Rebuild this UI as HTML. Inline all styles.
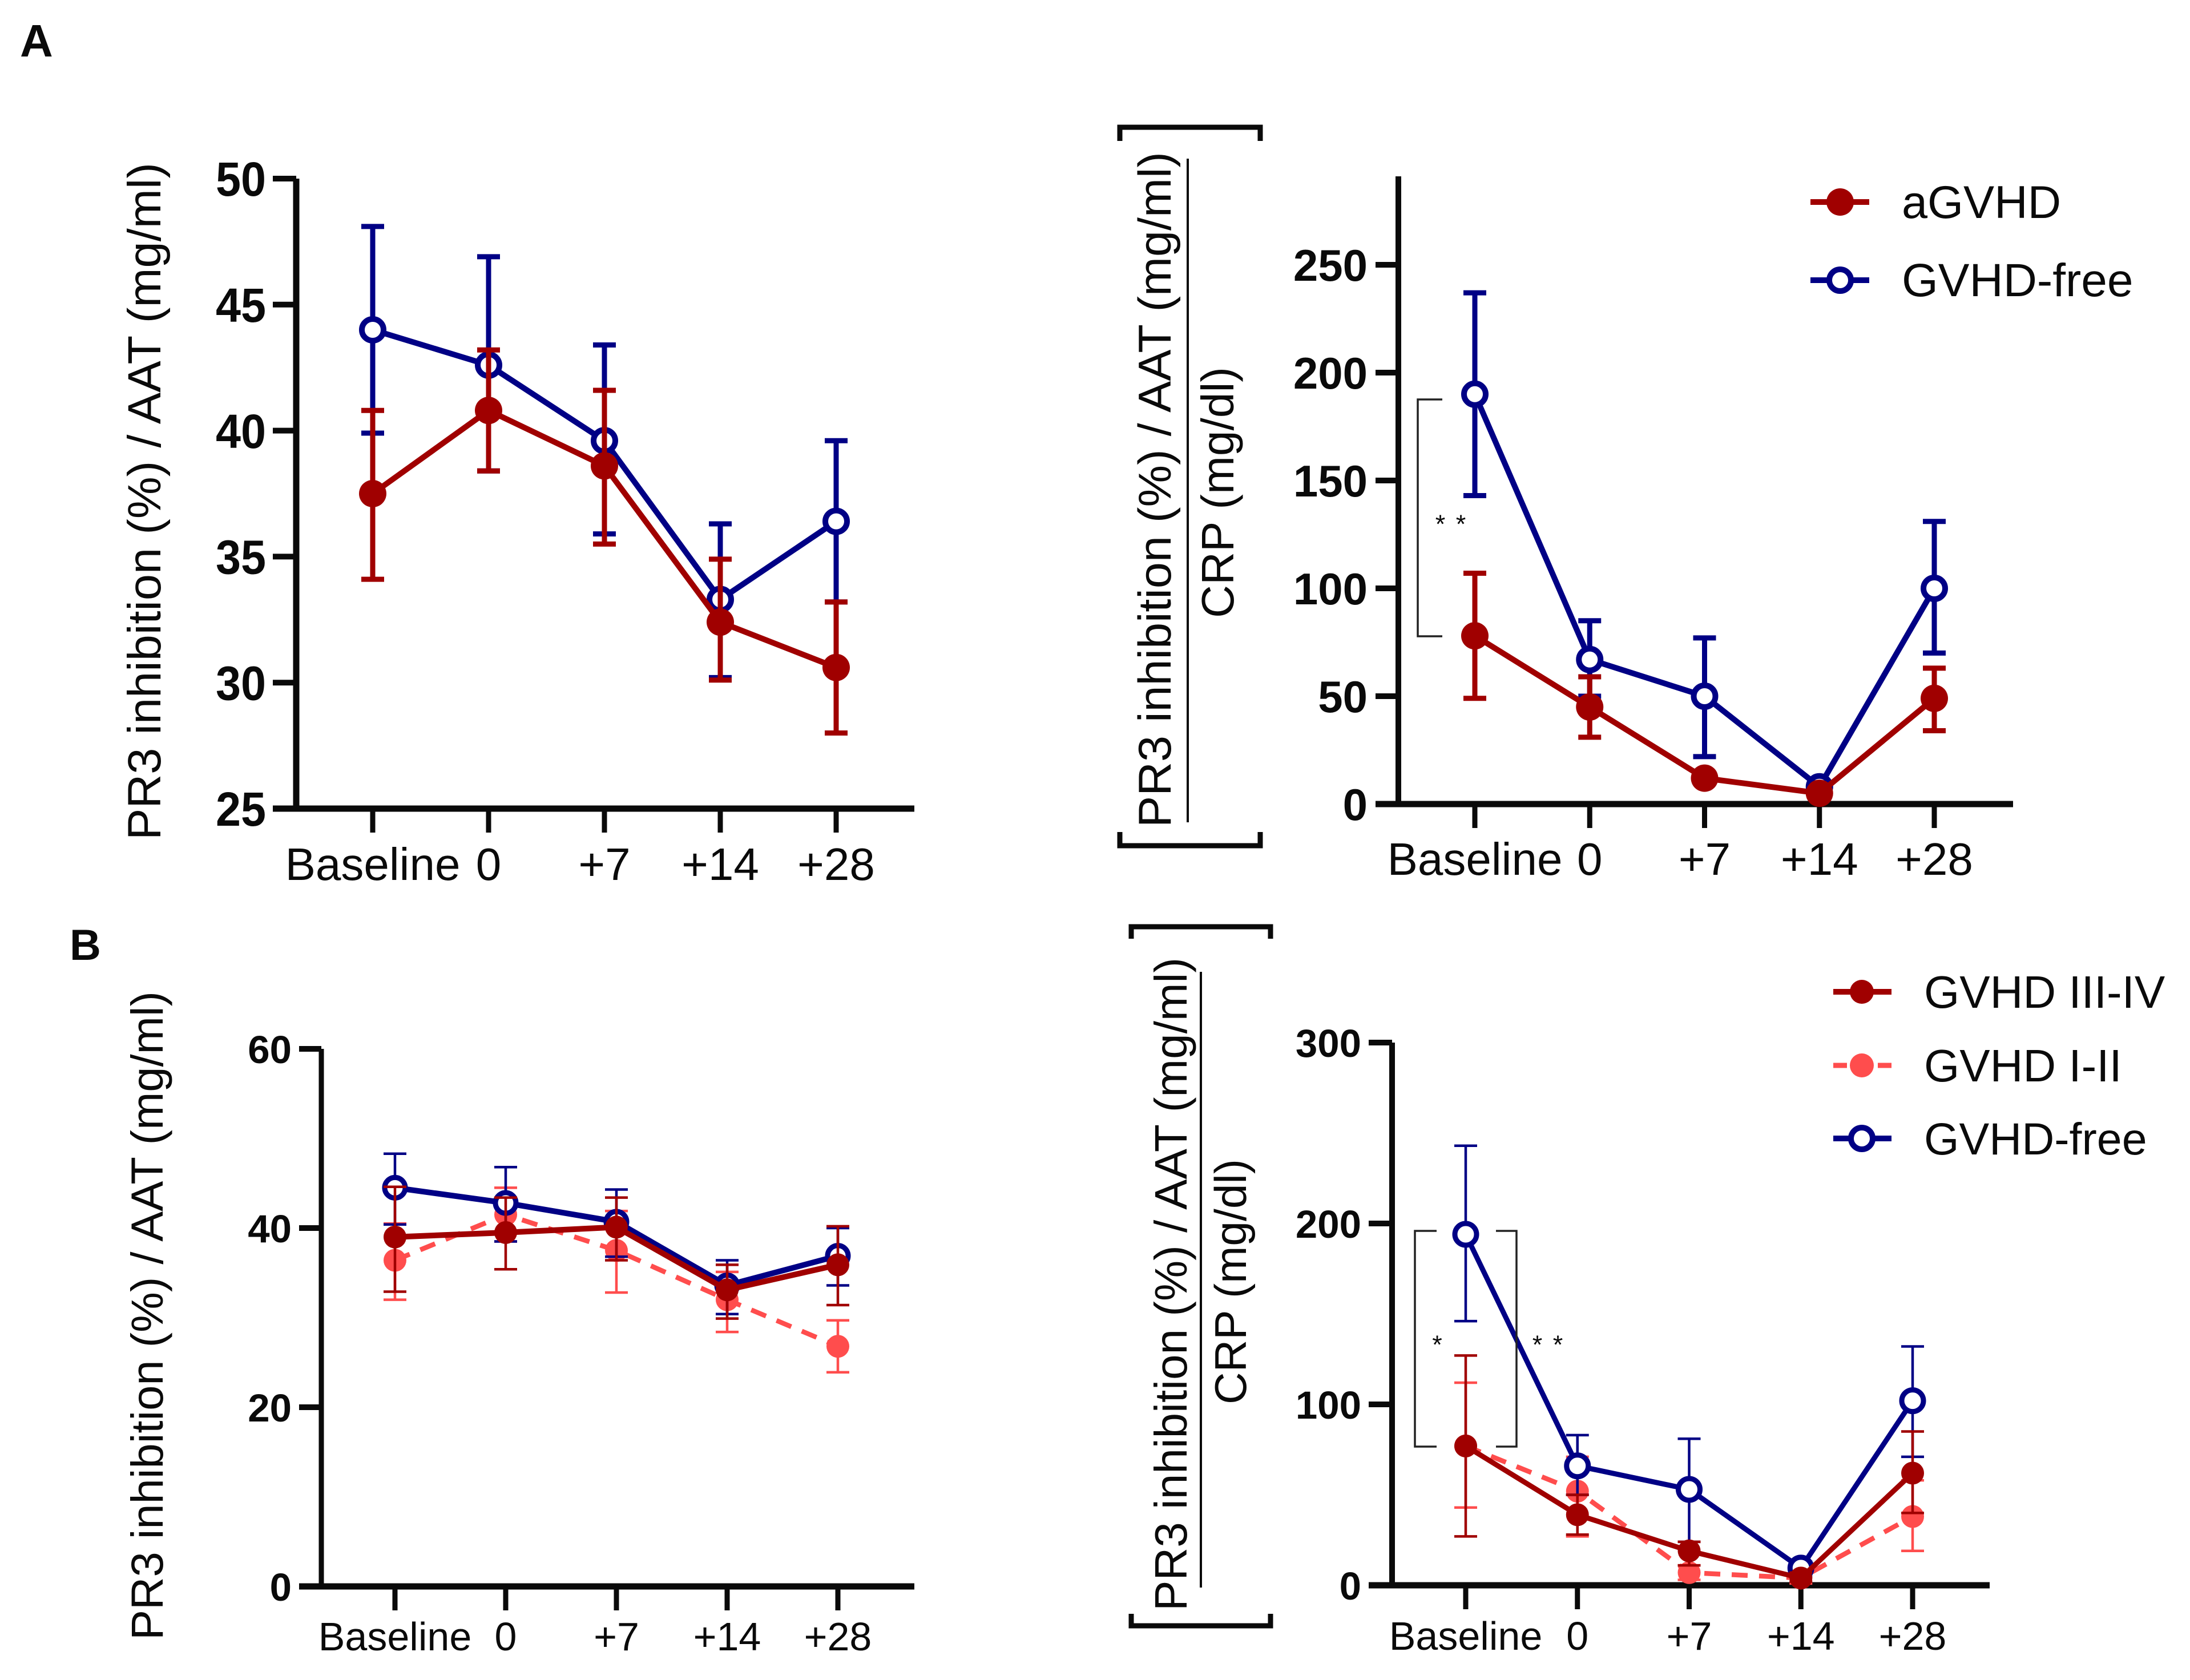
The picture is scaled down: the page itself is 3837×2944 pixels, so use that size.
<!DOCTYPE html>
<html lang="en">
<head>
<meta charset="utf-8">
<title>PR3 inhibition charts</title>
<style>
html,body{margin:0;padding:0;background:#fff;}
svg{display:block;}
text{font-family:"Liberation Sans",Arial,sans-serif;fill:#0a0a0a;}
</style>
</head>
<body>
<svg id="figure" xmlns="http://www.w3.org/2000/svg" width="3837" height="2944" viewBox="0 0 3837 2944">
  <rect width="3837" height="2944" fill="#fff"/>
  <text x="35" y="99" font-size="80" font-weight="bold">A</text>
  <text x="122" y="1682" font-size="76" font-weight="bold">B</text>

  <text transform="translate(281,1472) rotate(-90)" font-size="82" textLength="1187" lengthAdjust="spacingAndGlyphs">PR3 inhibition (%) / AAT (mg/ml)</text>
  <text transform="translate(285,2874) rotate(-90)" font-size="79" textLength="1137" lengthAdjust="spacingAndGlyphs">PR3 inhibition (%) / AAT (mg/ml)</text>

  <g>
    <polyline points="1962,247 1962,223 2208,223 2208,247" fill="none" stroke="#0a0a0a" stroke-width="9"/>
    <polyline points="1962,1458 1962,1482 2208,1482 2208,1458" fill="none" stroke="#0a0a0a" stroke-width="9"/>
    <line x1="2081" y1="278" x2="2081" y2="1441" stroke="#0a0a0a" stroke-width="4"/>
    <text transform="translate(2051,1450) rotate(-90)" font-size="81" textLength="1184" lengthAdjust="spacingAndGlyphs">PR3 inhibition (%) / AAT (mg/ml)</text>
    <text transform="translate(2161,1083) rotate(-90)" font-size="80" textLength="440" lengthAdjust="spacingAndGlyphs">CRP (mg/dl)</text>
  </g>

  <g>
    <polyline points="1982,1645 1982,1624 2226,1624 2226,1645" fill="none" stroke="#0a0a0a" stroke-width="9"/>
    <polyline points="1982,2828 1982,2849 2226,2849 2226,2828" fill="none" stroke="#0a0a0a" stroke-width="9"/>
    <line x1="2104" y1="1703" x2="2104" y2="2782" stroke="#0a0a0a" stroke-width="4"/>
    <text transform="translate(2079,2823) rotate(-90)" font-size="80" textLength="1145" lengthAdjust="spacingAndGlyphs">PR3 inhibition (%) / AAT (mg/ml)</text>
    <text transform="translate(2183,2461) rotate(-90)" font-size="78" textLength="430" lengthAdjust="spacingAndGlyphs">CRP (mg/dl)</text>
  </g>

  <g id="plots"></g>

  <g>
    <polyline points="2527,700 2484,700 2484,1115 2527,1115" fill="none" stroke="#222" stroke-width="3.5"/>
    <text x="2543" y="934" font-size="45" text-anchor="middle" letter-spacing="3">* *</text>
  </g>
  <g>
    <polyline points="2517,2157 2479,2157 2479,2535 2517,2535" fill="none" stroke="#222" stroke-width="3.5"/>
    <polyline points="2621,2157 2657,2157 2657,2535 2621,2535" fill="none" stroke="#222" stroke-width="3.5"/>
    <text x="2518" y="2372" font-size="45" text-anchor="middle">*</text>
    <text x="2713" y="2372" font-size="45" text-anchor="middle" letter-spacing="3">* *</text>
  </g>

  <g>
    <g>
      <line x1="3172" y1="354" x2="3275" y2="354" stroke="#a00000" stroke-width="10"/>
      <circle cx="3224" cy="354" r="24" fill="#a00000"/>
      <text x="3332" y="382" font-size="81">aGVHD</text>
    </g>
    <g>
      <line x1="3172" y1="491" x2="3275" y2="491" stroke="#000085" stroke-width="10"/>
      <circle cx="3224" cy="491" r="19" fill="#fff" stroke="#000085" stroke-width="10"/>
      <text x="3332" y="519" font-size="82">GVHD-free</text>
    </g>
  </g>
  <g>
    <g>
      <line x1="3212" y1="1738" x2="3314" y2="1738" stroke="#a00000" stroke-width="10"/>
      <circle cx="3262" cy="1738" r="21" fill="#a00000"/>
      <text x="3371" y="1766" font-size="80">GVHD III-IV</text>
    </g>
    <g>
      <line x1="3212" y1="1867" x2="3314" y2="1867" stroke="#ff4d4d" stroke-width="9" stroke-dasharray="24 54"/>
      <circle cx="3262" cy="1867" r="21" fill="#ff4d4d"/>
      <text x="3371" y="1895" font-size="80">GVHD I-II</text>
    </g>
    <g>
      <line x1="3212" y1="1995" x2="3314" y2="1995" stroke="#000085" stroke-width="10"/>
      <circle cx="3262" cy="1995" r="19" fill="#fff" stroke="#000085" stroke-width="10"/>
      <text x="3371" y="2023" font-size="79">GVHD-free</text>
    </g>
  </g>
</svg>

<script>
// ---------- shared categories ----------
const categories = ['Baseline', '0', '+7', '+14', '+28'];

// ---------- panel A, left ----------
const aLeftYTicks = [25, 30, 35, 40, 45, 50];
const aLeftFreeMean = [44, 42.6, 39.6, 33.3, 36.4];
const aLeftFreeUpper = [48.1, 46.9, 43.4, 36.3, 39.6];
const aLeftFreeLower = [39.9, 38.4, 35.9, 30.2, 33.2];
const aLeftGvhdMean = [37.5, 40.8, 38.6, 32.4, 30.6];
const aLeftGvhdUpper = [40.8, 43.2, 41.6, 34.9, 33.2];
const aLeftGvhdLower = [34.1, 38.4, 35.5, 30.1, 28];

// ---------- panel A, right ----------
const aRightYTicks = [0, 50, 100, 150, 200, 250];
const aRightFreeMean = [190, 67, 50, 8, 100];
const aRightFreeUpper = [237, 85, 77, 10, 131];
const aRightFreeLower = [143, 50, 22, 6, 70];
const aRightGvhdMean = [78, 45, 12, 5, 49];
const aRightGvhdUpper = [107, 59, 13, 6, 63];
const aRightGvhdLower = [49, 31, 11, 4, 34];

// ---------- panel B, left ----------
const bLeftYTicks = [0, 20, 40, 60];
const bLeftFreeMean = [44.5, 42.8, 40.7, 33.6, 36.9];
const bLeftFreeUpper = [48.3, 46.8, 44.3, 36.4, 40];
const bLeftFreeLower = [40.4, 38.5, 36.8, 30.4, 33.6];
const bLeftSevereMean = [39, 39.5, 40.1, 33.1, 35.9];
const bLeftSevereUpper = [44.6, 43.4, 43.4, 35.9, 40.2];
const bLeftSevereLower = [32.9, 35.4, 36.4, 29.9, 31.4];
const bLeftMildMean = [36.4, 41.5, 37.5, 32, 26.8];
const bLeftMildUpper = [40.5, 44.5, 41.9, 35.1, 29.7];
const bLeftMildLower = [32, 38.5, 32.8, 28.4, 23.9];

// ---------- panel B, right ----------
const bRightYTicks = [0, 100, 200, 300];
const bRightFreeMean = [194, 66, 53, 9.5, 102];
const bRightFreeUpper = [243, 83, 81, 13, 132];
const bRightFreeLower = [146, 50, 24, 5, 71];
const bRightSevereMean = [77, 39, 19, 4, 62];
const bRightSevereUpper = [127, 50, 24, 7, 85];
const bRightSevereLower = [27, 28, 11, 2, 40];
const bRightMildMean = [77, 52, 7, 4, 38];
const bRightMildUpper = [112, 71, 11, 7, 58];
const bRightMildLower = [43, 27, 3, 1, 19];

const NS = 'http://www.w3.org/2000/svg';
const plots = document.getElementById('plots');
const NAVY = '#000085';
const DARK = '#a00000';
const LIGHT = '#ff4d4d';
const INK = '#0a0a0a';

function make(tag, attrs, parent) {
  const node = document.createElementNS(NS, tag);
  Object.keys(attrs).forEach(function (k) { node.setAttribute(k, attrs[k]); });
  parent.appendChild(node);
  return node;
}

function xScale(panel, i) {
  return panel.x0 + i * panel.xStep;
}
function yScale(panel, v) {
  return panel.yBottom - (v - panel.yMin) * (panel.yBottom - panel.yTop) / (panel.yMax - panel.yMin);
}

function drawAxes(panel, root) {
  const g = make('g', {}, root);
  
  

  const yAxis = make('line', { x1: panel.axisX, x2: panel.axisX, y1: yScale(panel, panel.yMax), y2: panel.yBottom + 5, stroke: INK, 'stroke-width': panel.axisW }, g);
  
  

  const xAxis = make('line', { x1: panel.tickLeft, x2: panel.xEnd, y1: panel.yBottom, y2: panel.yBottom, stroke: INK, 'stroke-width': 11 }, g);
  
  

  panel.yTicks.forEach(function (t) {
    const y = yScale(panel, t);
    const tick = make('line', { x1: panel.tickLeft, x2: panel.axisX, y1: y, y2: y, stroke: INK, 'stroke-width': 10 }, g);
    
    

    const label = make('text', { x: panel.tickLabelRight, y: y + panel.yFont * 0.36, 'font-size': panel.yFont, 'font-weight': 'bold', 'text-anchor': 'end' }, g);
    label.textContent = String(t);
    if (panel.yDigitW) {
      label.setAttribute('textLength', String(t).length * panel.yDigitW);
      label.setAttribute('lengthAdjust', 'spacingAndGlyphs');
    }
    
    
  });

  categories.forEach(function (c, i) {
    const x = xScale(panel, i);
    const tick = make('line', { x1: x, x2: x, y1: panel.yBottom, y2: panel.yBottom + 42, stroke: INK, 'stroke-width': 9 }, g);
    
    

    const label = make('text', { x: x, y: panel.xLabelY, 'font-size': panel.xFont, 'text-anchor': 'middle' }, g);
    label.textContent = c;
    
    
  });
}

function drawSeries(panel, root, s) {
  const g = make('g', {}, root);
  
  

  s.upper.forEach(function (u, i) {
    const x = xScale(panel, i);
    const yU = yScale(panel, u);
    const yL = yScale(panel, s.lower[i]);
    const stem = make('line', { x1: x, x2: x, y1: yU, y2: yL, stroke: s.color, 'stroke-width': panel.errW }, g);
    
    

    const capTop = make('line', { x1: x - panel.capHalf, x2: x + panel.capHalf, y1: yU, y2: yU, stroke: s.color, 'stroke-width': panel.errW }, g);
    
    

    const capBottom = make('line', { x1: x - panel.capHalf, x2: x + panel.capHalf, y1: yL, y2: yL, stroke: s.color, 'stroke-width': panel.errW }, g);
    
    
  });

  const pts = s.mean.map(function (v, i) { return xScale(panel, i) + ',' + yScale(panel, v); }).join(' ');
  const attrs = { points: pts, fill: 'none', stroke: s.color, 'stroke-width': s.dashed ? 8.5 : panel.lineW };
  if (s.dashed) { attrs['stroke-dasharray'] = '28 20'; }
  const path = make('polyline', attrs, g);
  
  

  s.mean.forEach(function (v, i) {
    const cx = xScale(panel, i);
    const cy = yScale(panel, v);
    const dot = s.open
      ? make('circle', { cx: cx, cy: cy, r: panel.openR, fill: '#fff', stroke: s.color, 'stroke-width': panel.openW }, g)
      : make('circle', { cx: cx, cy: cy, r: panel.fillR, fill: s.color }, g);
    
    
  });
}

function drawPanel(panel, series) {
  const root = make('g', {}, plots);
  
  
  drawAxes(panel, root);
  series.forEach(function (s) { drawSeries(panel, root, s); });
}

drawPanel({
  name: 'panel-a-left-chart', x0: 653, xStep: 203, axisX: 519, axisW: 11, tickLeft: 478, xEnd: 1602,
  yMin: 25, yMax: 50, yTop: 313, yBottom: 1417, yTicks: aLeftYTicks, tickLabelRight: 466, yDigitW: 44,
  yFont: 84, xFont: 80, xLabelY: 1542, errW: 9, capHalf: 20, lineW: 10, fillR: 24, openR: 19, openW: 10
}, [
  { color: NAVY, open: true, mean: aLeftFreeMean, upper: aLeftFreeUpper, lower: aLeftFreeLower },
  { color: DARK, mean: aLeftGvhdMean, upper: aLeftGvhdUpper, lower: aLeftGvhdLower }
]);

drawPanel({
  name: 'panel-a-right-chart', x0: 2584, xStep: 201.25, axisX: 2450, axisW: 10, tickLeft: 2410, xEnd: 3527,
  yMin: 0, yMax: 291, yTop: 309, yBottom: 1409, yTicks: aRightYTicks, tickLabelRight: 2396,
  yFont: 78, xFont: 80, xLabelY: 1533, errW: 9, capHalf: 20, lineW: 10, fillR: 24, openR: 19, openW: 10
}, [
  { color: NAVY, open: true, mean: aRightFreeMean, upper: aRightFreeUpper, lower: aRightFreeLower },
  { color: DARK, mean: aRightGvhdMean, upper: aRightGvhdUpper, lower: aRightGvhdLower }
]);

drawPanel({
  name: 'panel-b-left-chart', x0: 692, xStep: 194, axisX: 563, axisW: 9, tickLeft: 524, xEnd: 1602,
  yMin: 0, yMax: 60, yTop: 1838, yBottom: 2780, yTicks: bLeftYTicks, tickLabelRight: 511,
  yFont: 69, xFont: 70, xLabelY: 2892, errW: 4.5, capHalf: 20, lineW: 10, fillR: 20, openR: 18, openW: 9
}, [
  { color: LIGHT, dashed: true, mean: bLeftMildMean, upper: bLeftMildUpper, lower: bLeftMildLower },
  { color: NAVY, open: true, mean: bLeftFreeMean, upper: bLeftFreeUpper, lower: bLeftFreeLower },
  { color: DARK, mean: bLeftSevereMean, upper: bLeftSevereUpper, lower: bLeftSevereLower }
]);

drawPanel({
  name: 'panel-b-right-chart', x0: 2568, xStep: 195.75, axisX: 2439, axisW: 10, tickLeft: 2398, xEnd: 3486,
  yMin: 0, yMax: 300, yTop: 1827, yBottom: 2778, yTicks: bRightYTicks, tickLabelRight: 2385,
  yFont: 69, xFont: 70, xLabelY: 2891, errW: 4.5, capHalf: 20, lineW: 9, fillR: 20, openR: 19, openW: 9
}, [
  { color: LIGHT, dashed: true, mean: bRightMildMean, upper: bRightMildUpper, lower: bRightMildLower },
  { color: NAVY, open: true, mean: bRightFreeMean, upper: bRightFreeUpper, lower: bRightFreeLower },
  { color: DARK, mean: bRightSevereMean, upper: bRightSevereUpper, lower: bRightSevereLower }
]);
</script>
</body>
</html>
